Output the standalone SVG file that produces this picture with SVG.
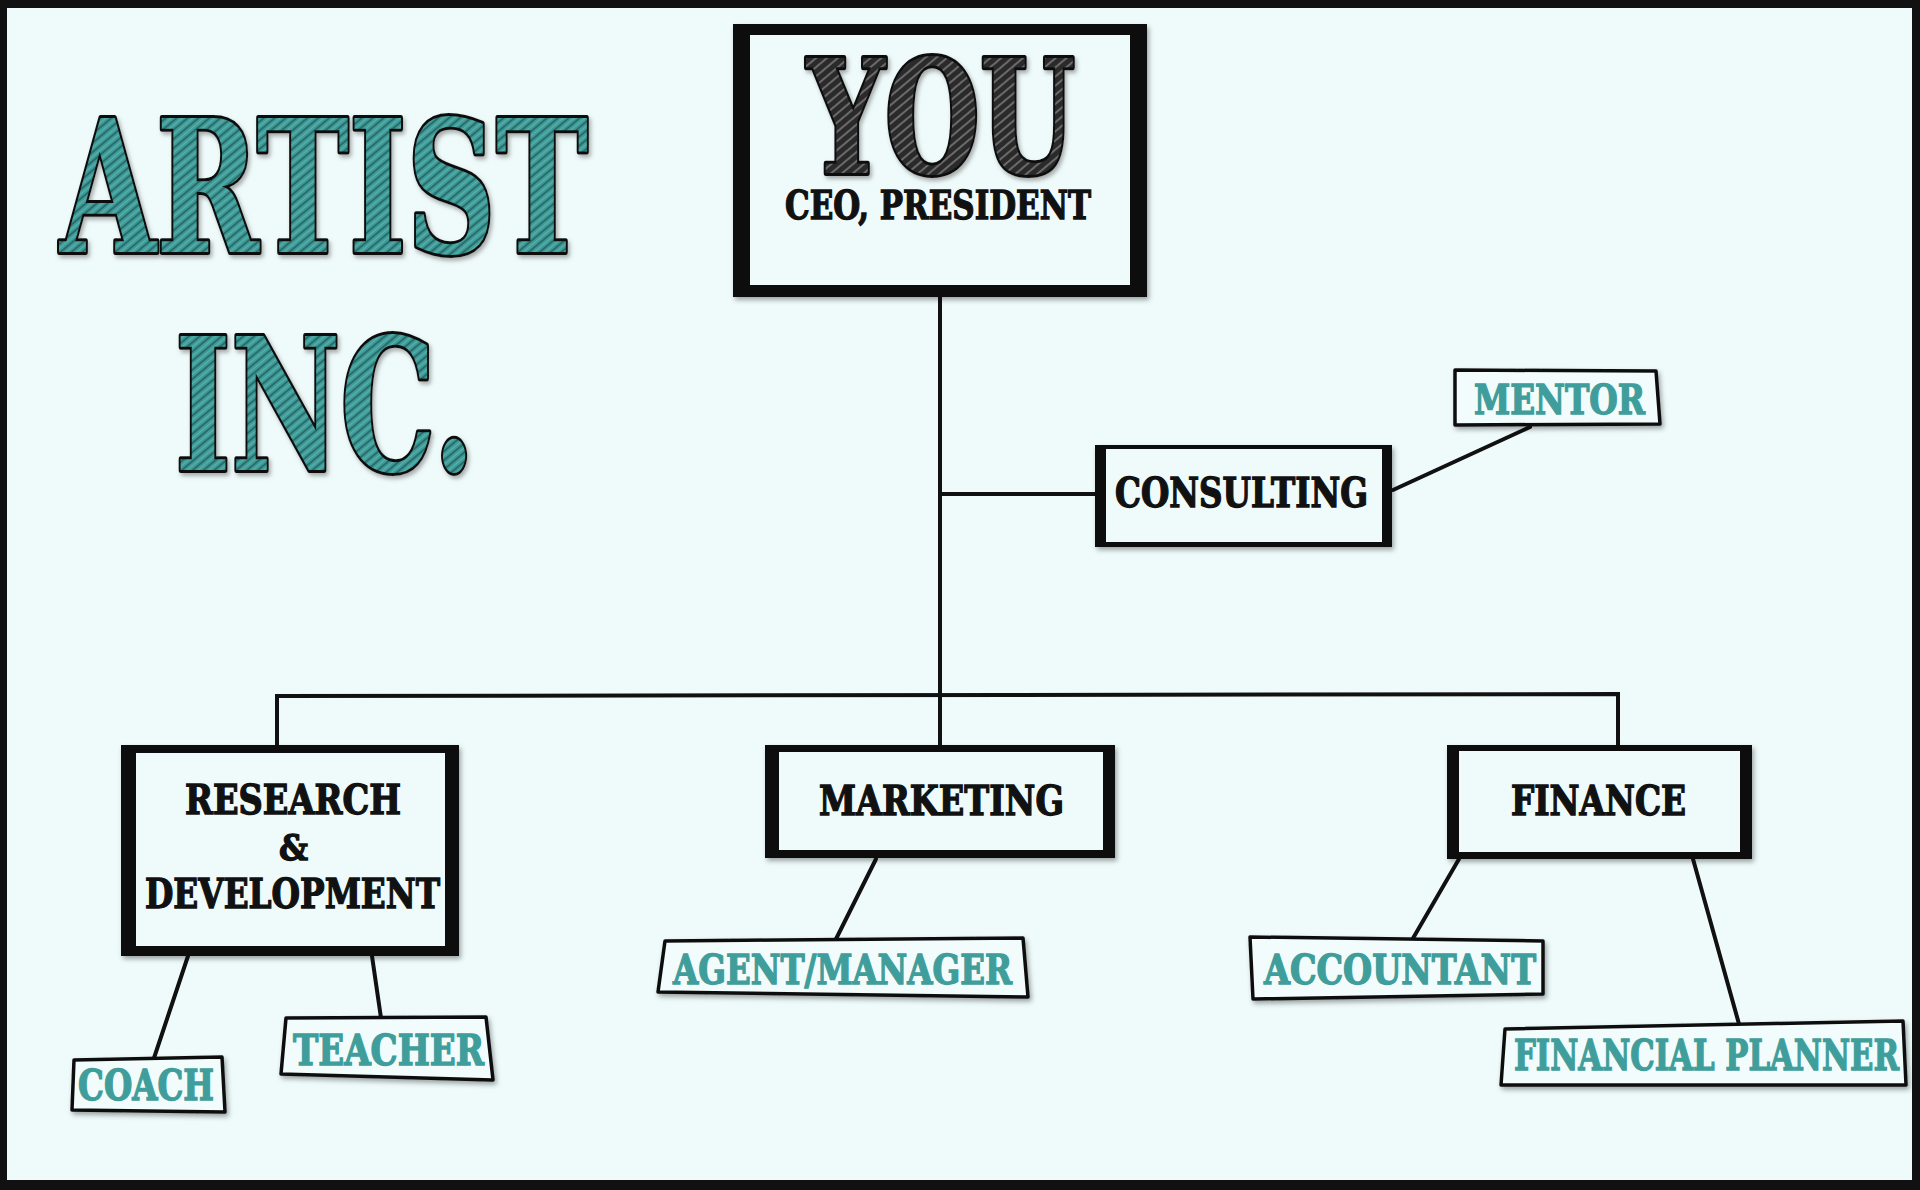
<svg xmlns="http://www.w3.org/2000/svg" width="1920" height="1190" viewBox="0 0 1920 1190">
<defs>
<pattern id="hatchTeal" width="7" height="7" patternUnits="userSpaceOnUse" patternTransform="rotate(-40)">
<rect width="7" height="7" fill="#3f9c99"/>
<line x1="0" y1="1" x2="7" y2="1" stroke="#24615f" stroke-width="1.6"/>
<line x1="0" y1="4.5" x2="7" y2="4.5" stroke="#58b3b0" stroke-width="1"/>
</pattern>
<pattern id="hatchDark" width="7" height="7" patternUnits="userSpaceOnUse" patternTransform="rotate(-40)">
<rect width="7" height="7" fill="#2b2b2b"/>
<line x1="0" y1="2" x2="7" y2="2" stroke="#8c8c8c" stroke-width="1.3"/>
</pattern>
<filter id="shadow" x="-10%" y="-10%" width="120%" height="130%">
<feDropShadow dx="2" dy="3" stdDeviation="2.5" flood-color="#000" flood-opacity="0.35"/>
</filter>
<filter id="glow" x="-10%" y="-10%" width="120%" height="120%">
<feDropShadow dx="2" dy="3" stdDeviation="2" flood-color="#777" flood-opacity="0.6"/>
</filter>
</defs>
<style>
.bg{fill:#effbfb}
.frame{fill:#111}
.lbl{font-family:"DejaVu Serif Condensed","DejaVu Serif","Liberation Serif",serif;font-weight:bold;fill:#111;stroke:#111;stroke-width:1.3}
.tl{font-family:"DejaVu Serif Condensed","DejaVu Serif","Liberation Serif",serif;font-weight:bold;fill:#3f9e9b;stroke:#3f9e9b;stroke-width:1.3}
.tbox{fill:#f3fcfc;stroke:#111;stroke-width:3.5;stroke-linejoin:round;filter:url(#shadow)}
.big{font-family:"DejaVu Serif","Liberation Serif",serif;font-weight:bold;stroke:#111;stroke-width:6;paint-order:stroke;stroke-linejoin:round;filter:url(#glow)}
.con{stroke:#111;fill:none;stroke-width:4;stroke-linecap:round}
</style>
<rect x="0" y="0" width="1920" height="1190" class="frame"/>
<rect x="7" y="8" width="1905" height="1172" class="bg"/>

<g id="title">
<text x="60" y="252" class="big" font-size="184" fill="url(#hatchTeal)" textLength="528" lengthAdjust="spacingAndGlyphs">ARTIST</text>
<text x="175" y="470" class="big" font-size="184" fill="url(#hatchTeal)" textLength="300" lengthAdjust="spacingAndGlyphs">INC.</text>
</g>

<g id="connectors">
<line x1="940" y1="297" x2="940" y2="745" class="con" stroke-width="5"/>
<line x1="940" y1="494" x2="1095" y2="494" class="con"/>
<polyline points="277,745 277,696 1618,694 1618,745" class="con" stroke-linecap="butt"/>
<line x1="1393" y1="490" x2="1530" y2="427" class="con" stroke-width="3.5"/>
<line x1="876" y1="859" x2="836" y2="939" class="con" stroke-width="3.5"/>
<line x1="1459" y1="859" x2="1412" y2="940" class="con" stroke-width="3.5"/>
<line x1="1693" y1="859" x2="1739" y2="1024" class="con" stroke-width="3.5"/>
<line x1="188" y1="956" x2="154" y2="1058" class="con" stroke-width="3.5"/>
<line x1="372" y1="956" x2="381" y2="1018" class="con" stroke-width="3.5"/>
</g>

<g id="you">
<rect x="733" y="24" width="414" height="273" class="frame" filter="url(#shadow)"/>
<rect x="750" y="35" width="380" height="250" class="bg"/>
<text x="807" y="173" class="big" font-size="158" fill="url(#hatchDark)" textLength="268" lengthAdjust="spacingAndGlyphs">YOU</text>
<text x="785" y="219" class="lbl" font-size="40" textLength="306" lengthAdjust="spacingAndGlyphs">CEO, PRESIDENT</text>
</g>

<g id="consulting">
<rect x="1095" y="445" width="297" height="102" class="frame" filter="url(#shadow)"/>
<rect x="1106" y="449" width="276" height="93" class="bg"/>
<text x="1115" y="507" class="lbl" font-size="41" textLength="253" lengthAdjust="spacingAndGlyphs">CONSULTING</text>
</g>

<g id="mentor">
<polygon points="1455,370 1656,371 1660,424 1455,425" class="tbox"/>
<text x="1474" y="414" class="tl" font-size="41" textLength="171" lengthAdjust="spacingAndGlyphs">MENTOR</text>
</g>

<g id="research">
<rect x="121" y="745" width="338" height="211" class="frame" filter="url(#shadow)"/>
<rect x="136" y="753" width="309" height="193" class="bg"/>
<text x="185" y="814" class="lbl" font-size="41" textLength="216" lengthAdjust="spacingAndGlyphs">RESEARCH</text>
<text x="279" y="860" class="lbl" font-size="36" textLength="29" lengthAdjust="spacingAndGlyphs">&amp;</text>
<text x="145" y="908" class="lbl" font-size="41" textLength="295" lengthAdjust="spacingAndGlyphs">DEVELOPMENT</text>
</g>

<g id="marketing">
<rect x="765" y="745" width="350" height="113" class="frame" filter="url(#shadow)"/>
<rect x="779" y="752" width="324" height="98" class="bg"/>
<text x="819" y="815" class="lbl" font-size="41" textLength="245" lengthAdjust="spacingAndGlyphs">MARKETING</text>
</g>

<g id="finance">
<rect x="1447" y="745" width="305" height="114" class="frame" filter="url(#shadow)"/>
<rect x="1459" y="751" width="281" height="101" class="bg"/>
<text x="1511" y="815" class="lbl" font-size="41" textLength="175" lengthAdjust="spacingAndGlyphs">FINANCE</text>
</g>

<g id="agent">
<polygon points="665,941 1023,938 1028,997 658,992" class="tbox"/>
<text x="673" y="984" class="tl" font-size="41" textLength="339" lengthAdjust="spacingAndGlyphs">AGENT/MANAGER</text>
</g>

<g id="accountant">
<polygon points="1250,937 1543,941 1543,994 1253,999" class="tbox"/>
<text x="1264" y="984" class="tl" font-size="41" textLength="272" lengthAdjust="spacingAndGlyphs">ACCOUNTANT</text>
</g>

<g id="planner">
<polygon points="1505,1029 1903,1021 1906,1085 1501,1085" class="tbox"/>
<text x="1514" y="1070" class="tl" font-size="43" textLength="385" lengthAdjust="spacingAndGlyphs">FINANCIAL PLANNER</text>
</g>

<g id="coach">
<polygon points="74,1060 222,1057 225,1112 72,1110" class="tbox"/>
<text x="78" y="1100" class="tl" font-size="43" textLength="136" lengthAdjust="spacingAndGlyphs">COACH</text>
</g>

<g id="teacher">
<polygon points="286,1018 486,1017 493,1080 281,1074" class="tbox"/>
<text x="293" y="1065" class="tl" font-size="42" textLength="191" lengthAdjust="spacingAndGlyphs">TEACHER</text>
</g>
</svg>
